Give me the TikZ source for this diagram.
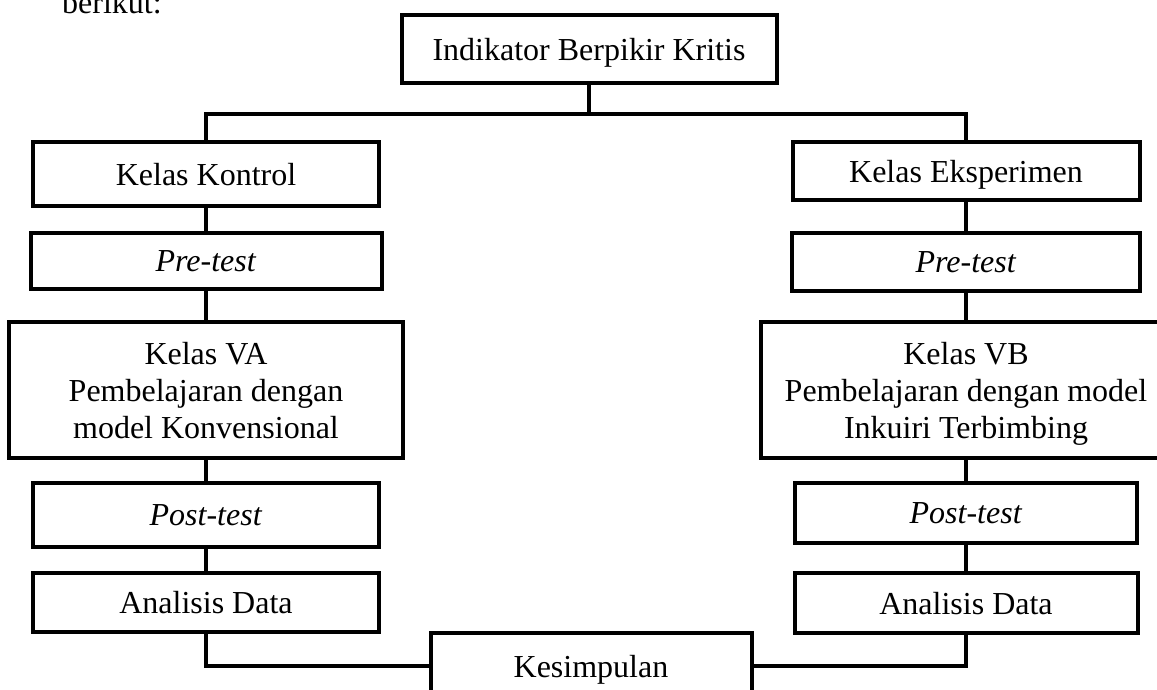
\documentclass[tikz,border=0pt]{standalone}
\usepackage{fontspec}
\setmainfont{Liberation Serif}
\begin{document}
\begin{tikzpicture}[x=1pt,y=-1pt,
  box/.style={draw=black, line width=4pt, inner sep=0pt, align=center,
    text depth=0pt, font=\fontsize{32}{37}\selectfont},
  conn/.style={draw=black, line width=3.5pt}]
\clip (0,0) rectangle (1157,690);
\useasboundingbox (0,0) rectangle (1157,690);

\node[anchor=base west, inner sep=0pt, font=\fontsize{32}{37}\selectfont] (intro) at (62,14) {berikut:};

\node[box, minimum width=375pt, minimum height=68pt] (ind) at (589,49) {Indikator Berpikir Kritis};

\node[box, minimum width=346pt, minimum height=64pt] (kk) at (206,174) {Kelas Kontrol};
\node[box, minimum width=347pt, minimum height=57pt] (ke) at (966,171) {Kelas Eksperimen};

\node[box, minimum width=351pt, minimum height=56pt] (preL) at (206,261) {\textit{Pre-test}};
\node[box, minimum width=348pt, minimum height=58pt] (preR) at (966,262) {\textit{Pre-test}};

\node[box, minimum width=394pt, minimum height=136pt] (va) at (206,390) {Kelas VA\\Pembelajaran dengan\\model Konvensional};
\node[box, minimum width=410pt, minimum height=136pt] (vb) at (966,390) {Kelas VB\\Pembelajaran dengan model\\Inkuiri Terbimbing};

\node[box, minimum width=346pt, minimum height=64pt] (postL) at (206,515) {\textit{Post-test}};
\node[box, minimum width=342pt, minimum height=60pt] (postR) at (966,513) {\textit{Post-test}};

\node[box, minimum width=346pt, minimum height=59pt] (adL) at (206,602) {Analisis Data};
\node[box, minimum width=343pt, minimum height=60pt] (adR) at (966,603) {Analisis Data};

\node[box, minimum width=321pt, minimum height=66pt] (kes) at (591,666) {Kesimpulan};

\coordinate (hy) at (0,114);

\draw[conn] (ind.south) -- (ind.south |- hy);
\draw[conn] (kk.north) |- (ke.north |- hy) -- (ke.north);
\draw[conn] (kk.south) -- (preL.north);
\draw[conn] (ke.south) -- (preR.north);
\draw[conn] (preL.south) -- (va.north);
\draw[conn] (preR.south) -- (vb.north);
\draw[conn] (va.south) -- (postL.north);
\draw[conn] (vb.south) -- (postR.north);
\draw[conn] (postL.south) -- (adL.north);
\draw[conn] (postR.south) -- (adR.north);
\draw[conn] (adL.south) |- (kes.west);
\draw[conn] (adR.south) |- (kes.east);
\end{tikzpicture}
\end{document}
